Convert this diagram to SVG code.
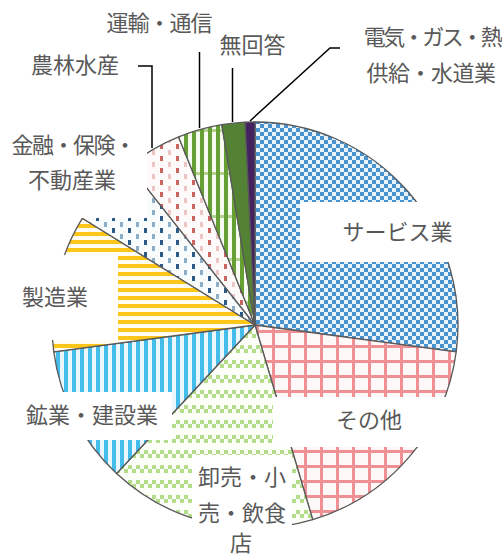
<svg xmlns="http://www.w3.org/2000/svg" width="502" height="556" viewBox="0 0 502 556">
<style>
.lbl{font-family:"Noto Sans CJK JP","Noto Sans",sans-serif;font-size:22px;fill:#595959;text-anchor:middle}
.slice{stroke:#595959;stroke-width:1.3;stroke-linejoin:round}
.box{fill:#ffffff}
.leader{stroke:#000000;stroke-width:1.5;fill:none}
</style>
<defs>
<pattern id="pService" width="8" height="8" patternUnits="userSpaceOnUse">
<rect width="8" height="8" fill="#e8f3fb"/>
<rect width="4" height="4" fill="#4893cf"/>
<rect x="4" y="4" width="4" height="4" fill="#4893cf"/>
</pattern>
<pattern id="pOther" width="16" height="15" patternUnits="userSpaceOnUse">
<rect width="16" height="15" fill="#fff8f8"/>
<rect x="0" y="0" width="3" height="15" fill="#ef9094"/>
<rect x="0" y="0" width="16" height="3" fill="#ef9094"/>
</pattern>
<pattern id="pRetail" width="8" height="15" patternUnits="userSpaceOnUse">
<rect width="8" height="15" fill="#fcfef8"/>
<rect x="0" y="0" width="4" height="4" fill="#b3dd88"/>
<rect x="4" y="4" width="4" height="4" fill="#b3dd88"/>
</pattern>
<pattern id="pMining" width="8" height="8" patternUnits="userSpaceOnUse">
<rect width="8" height="8" fill="#eaf8fd"/>
<rect x="0" y="0" width="4" height="8" fill="#45bdec"/>
</pattern>
<pattern id="pManuf" width="8" height="8" patternUnits="userSpaceOnUse">
<rect width="8" height="8" fill="#fffcf1"/>
<rect x="0" y="0" width="8" height="4" fill="#ffc61a"/>
</pattern>
<pattern id="pFinance" width="16" height="12" patternUnits="userSpaceOnUse">
<rect width="16" height="12" fill="#f8fcfd"/>
<rect x="0" y="0" width="3" height="5" fill="#2a5a85"/>
<rect x="8" y="6" width="3" height="5" fill="#8eadc6"/>
</pattern>
<pattern id="pAgri" width="16" height="12" patternUnits="userSpaceOnUse">
<rect width="16" height="12" fill="#fefafa"/>
<rect x="0" y="0" width="3" height="5" fill="#c96461"/>
<rect x="8" y="6" width="3" height="5" fill="#ebc6c5"/>
</pattern>
<pattern id="pTransport" width="8" height="43" patternUnits="userSpaceOnUse">
<rect width="8" height="43" fill="#f6fbf1"/>
<rect x="0" y="0" width="8" height="3" fill="#b3d48e"/>
<rect x="0" y="0" width="4" height="43" fill="#66a035"/>
</pattern>
</defs>
<rect width="502" height="556" fill="#ffffff"/>
<g id="slices">
<g id="node-service"><path class="slice" fill="url(#pService)" d="M255,325 L255,122 A203,203 0 0 1 456.2,351.8 Z"/></g>
<g id="node-other"><path class="slice" fill="url(#pOther)" d="M255,325 L456.2,351.8 A203,203 0 0 1 312.7,519.6 Z"/></g>
<g id="node-retail"><path class="slice" fill="url(#pRetail)" d="M255,325 L312.7,519.6 A203,203 0 0 1 116.6,473.5 Z"/></g>
<g id="node-mining"><path class="slice" fill="url(#pMining)" d="M255,325 L116.6,473.5 A203,203 0 0 1 53.8,351.8 Z"/></g>
<g id="node-manufacturing"><path class="slice" fill="url(#pManuf)" d="M255,325 L53.8,351.8 A203,203 0 0 1 82.3,218.3 Z"/></g>
<g id="node-finance"><path class="slice" fill="url(#pFinance)" d="M255,325 L82.3,218.3 A203,203 0 0 1 129.2,165.7 Z"/></g>
<g id="node-agriculture"><path class="slice" fill="url(#pAgri)" d="M255,325 L129.2,165.7 A203,203 0 0 1 178.6,136.9 Z"/></g>
<g id="node-transport"><path class="slice" fill="url(#pTransport)" d="M255,325 L178.6,136.9 A203,203 0 0 1 221.8,124.7 Z"/></g>
<g id="node-noanswer"><path class="slice" fill="#548235" d="M255,325 L221.8,124.7 A203,203 0 0 1 245.1,122.2 Z"/></g>
<g id="node-utilities"><path class="slice" fill="#44215f" d="M255,325 L245.1,122.2 A203,203 0 0 1 255,122 Z"/></g>
</g>
<g id="connectors">
<polyline class="leader" points="138,66 152,66 152,148"/>
<line class="leader" x1="199.5" y1="52" x2="199.5" y2="128"/>
<line class="leader" x1="232.5" y1="68" x2="232.5" y2="122"/>
<polyline class="leader" points="340,48 330,48 250,121"/>
</g>
<g id="label-service"><rect class="box" x="300" y="202" width="195" height="60"/><text class="lbl" x="397.5" y="240">サービス業</text></g>
<g id="label-other"><rect class="box" x="273" y="397" width="194" height="50"/><text class="lbl" x="369" y="428">その他</text></g>
<g id="label-retail"><rect class="box" x="192" y="455" width="100" height="101"/><text class="lbl" x="242" y="485">卸売・小</text><text class="lbl" x="242" y="521">売・飲食</text><text class="lbl" x="241" y="551">店</text></g>
<g id="label-mining"><rect class="box" x="12" y="392" width="160" height="48"/><text class="lbl" x="92" y="423">鉱業・建設業</text></g>
<g id="label-manufacturing"><rect class="box" x="0" y="255" width="118" height="85"/><text class="lbl" x="55" y="305">製造業</text></g>
<g id="label-finance"><rect class="box" x="0" y="125" width="147" height="93"/><text class="lbl" x="73" y="153" letter-spacing="-1.5">金融・保険・</text><text class="lbl" x="72" y="188">不動産業</text></g>
<g id="label-agriculture"><text class="lbl" x="75" y="73">農林水産</text></g>
<g id="label-transport"><text class="lbl" x="159" y="31" letter-spacing="-1">運輸・通信</text></g>
<g id="label-noanswer"><text class="lbl" x="252.5" y="53">無回答</text></g>
<g id="label-utilities"><text class="lbl" x="432" y="45" letter-spacing="-2.5">電気・ガス・熱</text><text class="lbl" x="431" y="81" letter-spacing="-0.5">供給・水道業</text></g>
</svg>
